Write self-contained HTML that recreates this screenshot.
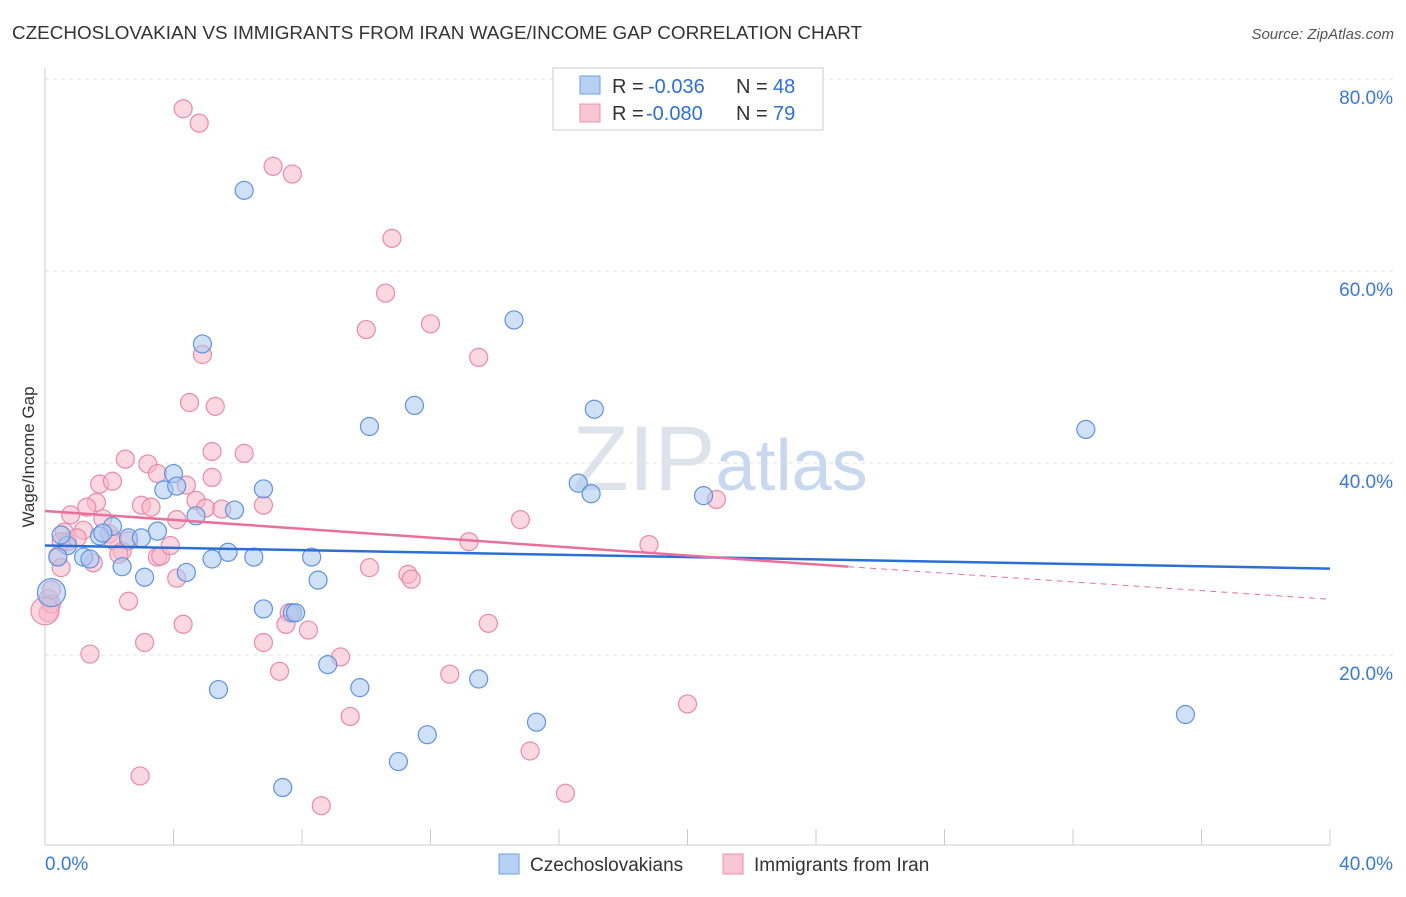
<!DOCTYPE html>
<html><head><meta charset="utf-8"><style>
body{margin:0;background:#fff;font-family:"Liberation Sans",sans-serif;}
svg text{font-family:"Liberation Sans",sans-serif;}
</style></head><body>
<svg id="chart" width="1406" height="892">
<text x="12" y="39" font-size="18" fill="#333" textLength="850" lengthAdjust="spacingAndGlyphs">CZECHOSLOVAKIAN VS IMMIGRANTS FROM IRAN WAGE/INCOME GAP CORRELATION CHART</text>
<text x="1394" y="39" font-size="15" fill="#555" font-style="italic" text-anchor="end">Source: ZipAtlas.com</text>
<g id="grid"></g>
<text x="720" y="490" font-size="92" fill="#dde3ea" text-anchor="middle" font-family="Liberation Serif">ZIP<tspan fill="#c8d9ef" font-family="Liberation Sans" font-size="72">atlas</tspan></text>
<text transform="translate(34,457) rotate(-90)" font-size="17" fill="#333" text-anchor="middle">Wage/Income Gap</text>
<g id="pts"></g>
<g id="trend"></g>
<g>
<rect x="553" y="68" width="270" height="62" fill="#fff" stroke="#ccc"/>
<rect x="580" y="76" width="20" height="18" fill="#b6d0f3" stroke="#6f9fe0"/>
<rect x="580" y="104" width="20" height="18" fill="#f9c6d6" stroke="#e890ab"/>
<g font-size="20" fill="#333">
<text x="612" y="93">R =</text><text x="648" y="93" fill="#2d6fd6">-0.036</text><text x="736" y="93">N =</text><text x="773" y="93" fill="#2d6fd6">48</text></g>
<g font-size="20" fill="#333">
<text x="612" y="120">R =</text><text x="646" y="120" fill="#2d6fd6">-0.080</text><text x="736" y="120">N =</text><text x="773" y="120" fill="#2d6fd6">79</text></g>
</g>
<g>
<rect x="499" y="854" width="20" height="20" fill="#b6d0f3" stroke="#6f9fe0"/>
<text x="530" y="871" font-size="19" fill="#333">Czechoslovakians</text>
<rect x="723" y="854" width="20" height="20" fill="#f9c6d6" stroke="#e890ab"/>
<text x="754" y="871" font-size="19" fill="#333">Immigrants from Iran</text>
</g>
</svg>
<script>
const yTicks=[20,40,60,80];
const xTickLabels=["0.0%","40.0%"];
const czechX=[6.2,4.9,14.6,11.5,10.1,17.1,32.4,4.0,3.7,4.1,6.8,5.9,4.7,16.6,17.0,20.5,2.1,3.5,1.7,1.8,2.6,3.0,0.7,0.4,1.2,1.4,5.7,5.2,6.5,8.3,2.4,3.1,4.4,8.5,6.8,7.7,7.8,8.8,5.4,9.8,13.5,15.3,11.9,11.0,7.4,35.5,0.2,0.5];
const czechY=[68.4,52.4,54.9,46.0,43.8,45.6,43.5,38.9,37.2,37.6,37.3,35.1,34.5,37.9,36.8,36.6,33.4,32.9,32.4,32.7,32.2,32.2,31.4,30.2,30.2,30.0,30.7,30.0,30.2,30.2,29.2,28.1,28.6,27.8,24.8,24.4,24.4,19.0,16.4,16.6,17.5,13.0,11.7,8.9,6.2,13.8,26.5,32.5];
const iranX=[4.3,4.8,7.1,7.7,10.8,10.6,10.0,12.0,13.5,4.9,4.5,5.3,5.2,6.2,2.5,3.2,3.5,1.7,2.1,4.4,5.2,1.6,1.3,3.0,3.3,4.7,5.0,5.5,6.8,4.1,1.8,0.8,0.6,1.2,0.7,1.0,2.0,2.1,2.6,2.4,2.3,3.5,3.6,3.9,0.4,0.5,1.5,14.8,13.2,18.8,20.9,10.1,11.3,11.4,4.1,2.6,0.1,0.1,0.2,4.3,7.6,7.5,8.2,13.8,6.8,3.1,1.4,9.2,7.3,12.6,20.0,9.5,15.1,2.96,16.2,8.6,0.0,0.2,0.5];
const iranY=[76.9,75.4,70.9,70.1,63.4,57.7,53.9,54.5,51.0,51.3,46.3,45.9,41.2,41.0,40.4,39.9,38.9,37.8,38.1,37.7,38.5,35.9,35.4,35.6,35.4,36.1,35.3,35.2,35.6,34.1,34.2,34.6,32.8,33.0,31.8,32.2,32.6,32.0,31.9,30.8,30.5,30.2,30.3,31.4,30.3,29.1,29.6,34.1,31.8,31.5,36.2,29.1,28.4,27.9,28.0,25.6,24.4,25.9,25.3,23.2,24.4,23.2,22.6,23.3,21.3,21.3,20.1,19.8,18.3,18.0,14.9,13.6,10.0,7.4,5.6,4.3,24.6,26.8,31.8];
const czechTrend=[31.4,29.0];
const iranTrend=[35.0,29.2,25.8];
const NS="http://www.w3.org/2000/svg";
const X=v=>45+v/40*1285, Y=v=>847-v*9.6;
function mk(t,a,p){const e=document.createElementNS(NS,t);for(const k in a)e.setAttribute(k,a[k]);p.appendChild(e);return e;}
const grid=document.getElementById('grid');
yTicks.forEach(t=>{
 const l=mk('line',{x1:45,x2:1393,y1:Y(t),y2:Y(t),stroke:'#e0e0e0','stroke-dasharray':'4,4'},grid);
 
 
 const tx=mk('text',{x:1393,y:Y(t)+25,'font-size':19,fill:'#3a78d8','text-anchor':'end'},grid);tx.textContent=t.toFixed(1)+'%';
 
 
});
mk('line',{x1:45,x2:45,y1:68,y2:845,stroke:'#ccc'},grid);
mk('line',{x1:45,x2:1330,y1:845,y2:845,stroke:'#ccc'},grid);
for(let i=0;i<=10;i++){mk('line',{x1:45+i*128.5,x2:45+i*128.5,y1:829,y2:845,stroke:'#ccc'},grid);}
xTickLabels.forEach((s,i)=>{const tx=mk('text',{x:i?1393:45,y:870,'font-size':19,fill:'#3a78d8','text-anchor':i?'end':'start'},grid);tx.textContent=s;
 
 });
const pts=document.getElementById('pts');
function draw(xs,ys,fill,stroke,name,bigX){xs.forEach((x,i)=>{const big=x===bigX;
 const c=mk('circle',{cx:X(x),cy:Y(ys[i]),r:big?14:9,fill:fill,'fill-opacity':0.55,stroke:stroke,'stroke-width':1.2},pts);
 
 });}
draw(iranX,iranY,'#f7b6cb','#e98aa9','point-iran',0.0);
draw(czechX,czechY,'#a9c8f0','#5f93dc','point-czech',0.2);
const tr=document.getElementById('trend');
const bl=mk('line',{x1:X(0),y1:Y(czechTrend[0]),x2:X(40),y2:Y(czechTrend[1]),stroke:'#2b6fd6','stroke-width':2.5},tr);


const pl=mk('line',{x1:X(0),y1:Y(iranTrend[0]),x2:X(25),y2:Y(iranTrend[1]),stroke:'#e8709a','stroke-width':2.5},tr);


const pd=mk('line',{x1:X(25),y1:Y(iranTrend[1]),x2:X(40),y2:Y(iranTrend[2]),stroke:'#e8709a','stroke-width':1,'stroke-dasharray':'6,5'},tr);


</script>
</body></html>
